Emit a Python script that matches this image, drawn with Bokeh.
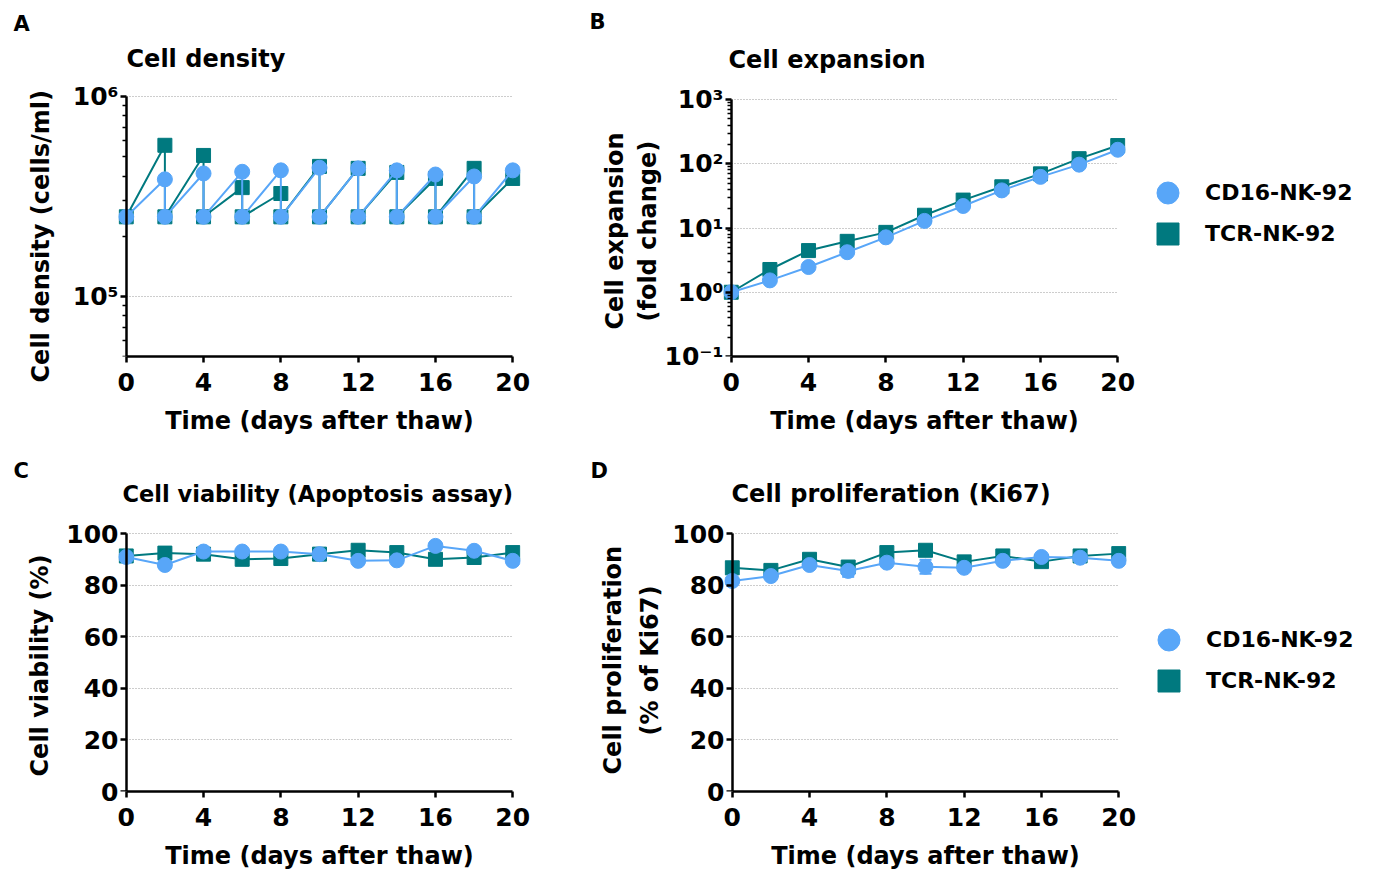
from bokeh.plotting import figure
from bokeh.models import (Range1d, FixedTicker, Label, Legend, LegendItem, Whisker,
                          ColumnDataSource, TeeHead, Title, LinearAxis, LogAxis,
                          CustomJSTickFormatter)
from bokeh.layouts import column, row
from bokeh.embed import file_html
from bokeh.resources import INLINE
import math

# ---------------- data ----------------
days = [0, 2, 4, 6, 8, 10, 12, 14, 16, 18, 20]

# A: cell density (measured value, then re-seeded to 2.5e5)
density_days = [0, 2, 2, 4, 4, 6, 6, 8, 8, 10, 10, 12, 12, 14, 14, 16, 16, 18, 18, 20]
cd16_density = [2.5e5, 3.85e5, 2.5e5, 4.12e5, 2.5e5, 4.2e5, 2.5e5, 4.27e5, 2.5e5, 4.4e5,
                2.5e5, 4.37e5, 2.5e5, 4.27e5, 2.5e5, 4.07e5, 2.5e5, 3.98e5, 2.5e5, 4.27e5]
tcr_density = [2.5e5, 5.7e5, 2.5e5, 5.07e5, 2.5e5, 3.5e5, 2.5e5, 3.27e5, 2.5e5, 4.47e5,
               2.5e5, 4.37e5, 2.5e5, 4.17e5, 2.5e5, 3.89e5, 2.5e5, 4.37e5, 2.5e5, 3.89e5]

# B: cell expansion (fold change)
cd16_expansion = [1.0, 1.53, 2.47, 4.2, 7.16, 12.9, 22.0, 38.5, 62.5, 96.8, 165.0]
tcr_expansion = [1.0, 2.26, 4.45, 6.2, 8.55, 15.8, 27.2, 43.8, 69.6, 120.0, 192.0]

# C: viability (%)
cd16_viability = [90.9, 87.8, 93.0, 93.0, 93.0, 92.0, 89.4, 89.6, 95.2, 93.3, 89.4]
tcr_viability = [91.3, 92.4, 92.0, 90.0, 90.3, 92.0, 93.5, 92.6, 90.0, 90.7, 92.6]

# D: proliferation (% Ki67)
cd16_ki67 = [81.6, 83.5, 87.8, 85.5, 88.7, 87.1, 86.7, 89.4, 90.9, 90.6, 89.4]
tcr_ki67 = [86.7, 85.7, 90.0, 87.0, 92.6, 93.5, 89.0, 91.3, 89.1, 91.3, 92.2]
ki67_err_days = [6, 10]
ki67_err_lower = [83.2, 84.4]
ki67_err_upper = [87.8, 89.8]

x_ticks = [0, 4, 8, 12, 16, 20]
series_names = ["CD16-NK-92", "TCR-NK-92"]

CD16 = "#58a6f8"
TCR = "#00797f"
FONT = "DejaVu Sans"


def make_panel(fig_w, fig_h, bl, bt, bb, br, y_type, y_range, y_bounds, y_ticks, y_overrides):
    p = figure(width=fig_w, height=fig_h, x_range=Range1d(-0.4, 20.4), y_range=y_range,
               y_axis_type=y_type, output_backend="svg", toolbar_location=None,
               min_border_left=bl, min_border_top=bt, min_border_right=br,
               min_border_bottom=bb)
    p.outline_line_color = None
    p.background_fill_color = "white"
    p.border_fill_color = "white"
    p.xgrid.visible = False
    g = p.ygrid[0]
    g.grid_line_color = "#9a9a9a"
    g.grid_line_dash = "1 2"
    g.grid_line_width = 1
    try:
        g.cross_bounds = (0, 20)
    except Exception:
        pass

    xa = p.xaxis[0]
    xa.ticker = FixedTicker(ticks=x_ticks)
    xa.bounds = (0, 20)
    xa.axis_label = "Time (days after thaw)"
    xa.major_tick_out = 6
    xa.major_tick_in = 0
    xa.minor_tick_out = 0
    xa.minor_tick_in = 0
    xa.major_label_standoff = 10
    xa.axis_label_standoff = 13
    xa.axis_line_width = 2.5
    xa.major_tick_line_width = 2.5

    # y axis carrying only the tick labels (left panel)
    yl = p.yaxis[0]
    yl.ticker = FixedTicker(ticks=y_ticks)
    yl.bounds = y_bounds
    yl.axis_line_color = None
    yl.major_tick_out = 0
    yl.major_tick_in = 0
    yl.minor_tick_out = 0
    yl.minor_tick_in = 0
    yl.major_label_standoff = 0
    if y_overrides:
        yl.major_label_overrides = y_overrides

    for ax in (xa, yl):
        ax.major_label_text_font = FONT
        ax.major_label_text_font_style = "bold"
        ax.major_label_text_font_size = "25px"
        ax.major_label_text_color = "black"
        ax.axis_label_text_font = FONT
        ax.axis_label_text_font_style = "bold"
        ax.axis_label_text_font_size = "24px"
        ax.axis_label_text_color = "black"
    return p


def add_fixed_axis(p, y_type, y_bounds, y_ticks, y_minor):
    # axis line + ticks drawn exactly at day 0, ticks pointing left
    AxisCls = LogAxis if y_type == "log" else LinearAxis
    yf = AxisCls(ticker=FixedTicker(ticks=y_ticks, minor_ticks=y_minor), bounds=y_bounds,
                 fixed_location=0, formatter=CustomJSTickFormatter(code="return ''"))
    yf.axis_line_width = 2.5
    yf.axis_line_color = "black"
    yf.major_tick_out = 0
    yf.major_tick_in = 6
    yf.major_tick_line_width = 2.5
    yf.major_tick_line_color = "black"
    yf.minor_tick_out = 0
    yf.minor_tick_in = 4 if y_minor else 0
    yf.minor_tick_line_width = 1.5
    yf.minor_tick_line_color = "black"
    yf.major_label_standoff = 0
    yf.major_label_text_color = None
    yf.major_label_text_font_size = "10px"
    p.add_layout(yf, "right")


def add_ylabel(p, text, offset, standoff):
    p.add_layout(Title(text=text, align="left", offset=offset, standoff=standoff,
                       text_font=FONT, text_font_style="bold", text_font_size="24px",
                       text_color="black"), "left")


def add_letter(p, text, offset, standoff):
    p.add_layout(Title(text=text, align="left", offset=offset, standoff=standoff,
                       text_font=FONT, text_font_style="bold", text_font_size="21px",
                       text_color="black"), "above")


def add_title(p, x, y, text, size="24px"):
    # y is the vertical centre of the text, measured up from the frame bottom
    p.add_layout(Label(x=x, y=y, x_units="screen", y_units="screen", text=text,
                       text_font=FONT, text_font_style="bold", text_font_size=size,
                       text_color="black", text_baseline="middle", text_align="left"))


def add_series(p, xs, cd16, tcr):
    p.line(xs, tcr, line_color=TCR, line_width=2)
    p.scatter(xs, tcr, marker="square", size=14, fill_color=TCR, line_color=TCR)
    p.line(xs, cd16, line_color=CD16, line_width=2)
    p.scatter(xs, cd16, marker="circle", size=15, fill_color=CD16, line_color=CD16)


def legend_fig(width, height, bt, bb, xs, cd16, tcr, y_first, y_second):
    # a figure that only shows the legend (its series lie outside the visible range)
    q = figure(width=width, height=height, x_range=Range1d(100, 101), y_range=Range1d(100, 101),
               x_axis_location=None, y_axis_location=None, toolbar_location=None,
               output_backend="svg", min_border_left=0, min_border_right=0,
               min_border_top=bt, min_border_bottom=bb)
    q.outline_line_color = None
    q.grid.visible = False
    r_cd = q.scatter(xs, cd16, marker="circle", size=15, fill_color=CD16, line_color=CD16)
    r_tcr = q.scatter(xs, tcr, marker="square", size=14, fill_color=TCR, line_color=TCR)
    for name, r, yy in ((series_names[0], r_cd, y_first), (series_names[1], r_tcr, y_second)):
        leg = Legend(items=[LegendItem(label=name, renderers=[r])], location=(5, yy))
        leg.background_fill_alpha = 0
        leg.border_line_color = None
        leg.label_text_font = FONT
        leg.label_text_font_style = "bold"
        leg.label_text_font_size = "22px"
        leg.label_text_color = "black"
        leg.glyph_width = 55
        leg.glyph_height = 55
        leg.spacing = 0
        leg.padding = 5
        leg.margin = 0
        leg.label_standoff = 10
        q.add_layout(leg)
    return q


log_minor_a = [5e4, 6e4, 7e4, 8e4, 9e4] + [k * 1e5 for k in range(2, 10)]
log_minor_b = [k * 10.0 ** e for e in (-1, 0, 1, 2) for k in range(2, 10)]
lin_ticks = [0, 20, 40, 60, 80, 100]

TOP1, BOT1 = 36, 81     # top row: frame from y=36 to y=356
TOP2, BOT2 = 45, 82     # bottom row: frame from y=482 to y=791

# ---------------- A ----------------
a_dec = (356 - 96) / math.log10(1e6 / 5e4)
a_yr = Range1d(5e4, 10 ** (6 + (96 - 36) / a_dec))
pa = make_panel(580, 437, 118, TOP1, BOT1, 60, "log", a_yr, (5e4, 1e6), [1e5, 1e6],
                {100000: "10\u2075", 1000000: "10\u2076"})
add_series(pa, density_days, cd16_density, tcr_density)
add_fixed_axis(pa, "log", (5e4, 1e6), [1e5, 1e6], log_minor_a)
add_ylabel(pa, "Cell density (cells/ml)", -26, 30)
add_letter(pa, "A", -105, 2)
add_title(pa, 8, 356 - 58, "Cell density")

# ---------------- B ----------------
b_dec = (356 - 99) / 4.0
b_yr = Range1d(0.1, 10 ** (3 + (99 - 36) / b_dec))
pb = make_panel(555, 437, 143, TOP1, BOT1, 10, "log", b_yr, (0.1, 1000),
                [0.1, 1, 10, 100, 1000],
                {0.1: "10\u207b\u00b9", 1: "10\u2070", 10: "10\u00b9", 100: "10\u00b2",
                 1000: "10\u00b3"})
add_series(pb, days, cd16_expansion, tcr_expansion)
add_fixed_axis(pb, "log", (0.1, 1000), [0.1, 1, 10, 100, 1000], log_minor_b)
add_ylabel(pb, "(fold change)", 35, 0)
add_ylabel(pb, "Cell expansion", 27, 6)
add_letter(pb, "B", -134, 6)
add_title(pb, 5, 356 - 59, "Cell expansion")
leg_b = legend_fig(239, 437, TOP1, BOT1, days, cd16_expansion, tcr_expansion,
                   356 - 220, 356 - 261)

# ---------------- C ----------------
c_ppu = (791 - 533) / 100.0
c_yr = Range1d(0, 100 + (533 - 482) / c_ppu)
pc = make_panel(580, 436, 118, TOP2, BOT2, 60, "linear", c_yr, (0, 100), lin_ticks, None)
add_series(pc, days, cd16_viability, tcr_viability)
add_fixed_axis(pc, "linear", (0, 100), lin_ticks, [])
add_ylabel(pc, "Cell viability (%)", 15, 20)
add_letter(pc, "C", -105, 0)
add_title(pc, 4, 791 - 493, "Cell viability (Apoptosis assay)", "22.5px")

# ---------------- D ----------------
d_yr = Range1d(0, 100 + (533 - 482) / c_ppu)
pd_ = make_panel(556, 436, 144, TOP2, BOT2, 10, "linear", d_yr, (0, 100), lin_ticks, None)
err_src = ColumnDataSource(data=dict(base=ki67_err_days, lower=ki67_err_lower, upper=ki67_err_upper))
pd_.add_layout(Whisker(source=err_src, base="base", lower="lower", upper="upper",
                       line_color=CD16, line_width=2,
                       lower_head=TeeHead(size=12, line_color=CD16, line_width=2),
                       upper_head=TeeHead(size=12, line_color=CD16, line_width=2)))
add_series(pd_, days, cd16_ki67, tcr_ki67)
add_fixed_axis(pd_, "linear", (0, 100), lin_ticks, [])
add_ylabel(pd_, "(% of Ki67)", 56, 12)
add_ylabel(pd_, "Cell proliferation", 17, 2)
add_letter(pd_, "D", -134, 0)
add_title(pd_, 7, 791 - 493, "Cell proliferation (Ki67)")
leg_d = legend_fig(238, 436, TOP2, BOT2, days, cd16_ki67, tcr_ki67,
                   791 - 667, 791 - 708)

layout = column(row(pa, pb, leg_b), row(pc, pd_, leg_d))
open("out.html", "w").write(file_html(layout, INLINE))
